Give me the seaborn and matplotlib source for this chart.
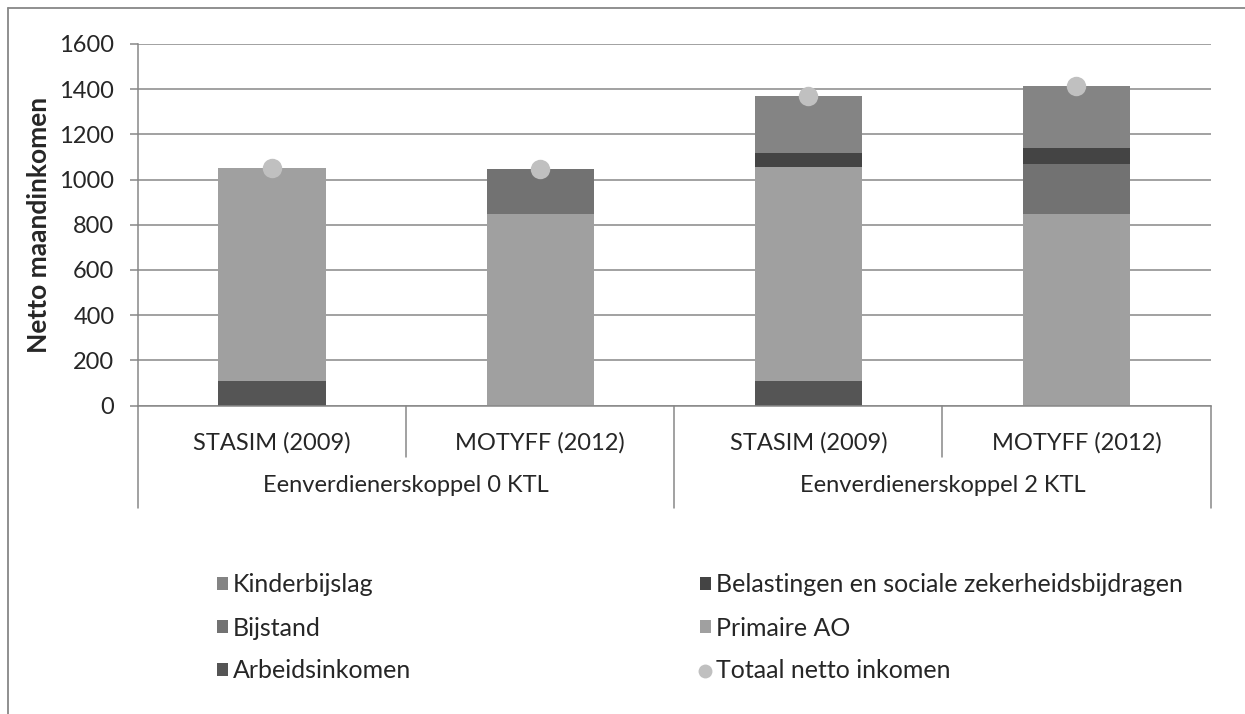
import pandas as pd
import seaborn as sns
import matplotlib.pyplot as plt
from matplotlib.patches import Patch
from matplotlib.lines import Line2D

# --- data ---
groups = ["Eenverdienerskoppel 0 KTL", "Eenverdienerskoppel 0 KTL",
          "Eenverdienerskoppel 2 KTL", "Eenverdienerskoppel 2 KTL"]
scenarios = ["STASIM (2009)", "MOTYFF (2012)", "STASIM (2009)", "MOTYFF (2012)"]

arbeidsinkomen = [110, 0, 110, 0]
primaire_ao = [942, 846, 944, 846]
bijstand = [0, 200, 0, 225]
belastingen = [0, 0, 63, 68]
kinderbijslag = [0, 0, 252, 275]
totaal = [1052, 1046, 1368, 1414]

y_ticks = [0, 200, 400, 600, 800, 1000, 1200, 1400, 1600]

# stacking order, bottom to top
layers = [
    ("Arbeidsinkomen", arbeidsinkomen, "#555555"),
    ("Primaire AO", primaire_ao, "#a0a0a0"),
    ("Bijstand", bijstand, "#727272"),
    ("Belastingen en sociale zekerheidsbijdragen", belastingen, "#444444"),
    ("Kinderbijslag", kinderbijslag, "#848484"),
]
total_color = "#c0c0c0"
line_color = "#878787"

sns.set_theme(style="white")
plt.rcParams['font.family'] = ['Lato', 'DejaVu Sans']
FS_TICK = 17
FS_CAT = 17
FS_LEG = 18
FS_YLAB = 19

df = pd.DataFrame({"groep": groups, "scenario": scenarios, "totaal": totaal})
df["key"] = df["groep"] + " | " + df["scenario"]
keys = list(df["key"])

cum = [0] * len(keys)
cum_layers = []
for name, vals, color in layers:
    cum = [c + v for c, v in zip(cum, vals)]
    cum_layers.append((name, list(cum), color))

fig = plt.figure(figsize=(12.45, 7.14), dpi=100)
ax = fig.add_axes([138 / 1245, 1 - 405.5 / 714, (1210.5 - 138) / 1245, (405.5 - 44) / 714])

# draw tallest cumulative first so lower layers sit on top
for name, heights, color in reversed(cum_layers):
    sns.barplot(x=keys, y=heights, order=keys, color=color, width=0.4,
                saturation=1, ax=ax, linewidth=0)

sns.stripplot(data=df, x="key", y="totaal", order=keys, jitter=False,
              color=total_color, size=14, linewidth=0, ax=ax, zorder=5)

ax.set_xlim(-0.5, len(keys) - 0.5)
ax.set_ylim(0, 1600)
ax.set_yticks(y_ticks)
ax.yaxis.grid(True, color=line_color, linewidth=1.1)
ax.set_axisbelow(True)
ax.tick_params(axis='y', length=6, width=1.1, color=line_color, direction='out',
               pad=11, labelsize=FS_TICK, left=True)
ax.tick_params(axis='x', bottom=False, labelbottom=False)
ax.set_xlabel("")
ax.set_ylabel("Netto maandinkomen", fontsize=FS_YLAB, fontweight='bold')
ax.yaxis.set_label_coords(-(138 - 51) / (1210.5 - 138), 0.5)
for s in ["top", "right"]:
    ax.spines[s].set_visible(False)
for s in ["left", "bottom"]:
    ax.spines[s].set_color(line_color)
    ax.spines[s].set_linewidth(1.1)

# multi-level category axis
tr = ax.get_xaxis_transform()
for i, sc in enumerate(scenarios):
    ax.text(i, -0.104, sc, transform=tr, ha='center', va='center', fontsize=FS_CAT)
for g_start in range(0, len(keys), 2):
    ax.text(g_start + 0.5, -0.22, groups[g_start], transform=tr,
            ha='center', va='center', fontsize=FS_CAT)
for x in [0.5, 2.5]:
    ax.plot([x, x], [0, -0.1425], transform=tr, color=line_color, lw=1.1, clip_on=False)
for x in [-0.5, 1.5, 3.5]:
    ax.plot([x, x], [0, -0.2835], transform=tr, color=line_color, lw=1.1, clip_on=False)

# legend, two columns
def sq(c):
    return Patch(facecolor=c, edgecolor='none')

col1 = [(sq("#848484"), "Kinderbijslag"), (sq("#727272"), "Bijstand"),
        (sq("#555555"), "Arbeidsinkomen")]
col2 = [(sq("#444444"), "Belastingen en sociale zekerheidsbijdragen"),
        (sq("#a0a0a0"), "Primaire AO"),
        (Line2D([], [], marker='o', color='none', markerfacecolor=total_color,
                markeredgecolor='none', markersize=10), "Totaal netto inkomen")]
for items, x0 in [(col1, 217), (col2, 700)]:
    leg = fig.legend([h for h, _ in items], [t for _, t in items],
                     loc='center left', bbox_to_anchor=(x0 / 1245, 1 - 628 / 714),
                     frameon=False, fontsize=FS_LEG, borderpad=0, borderaxespad=0,
                     handlelength=0.42, handleheight=0.42, handletextpad=0.2,
                     labelspacing=0.8)

# outer chart border (left and top edges visible)
fig.add_artist(Line2D([8 / 1245, 8 / 1245], [0, 1 - 8 / 714], transform=fig.transFigure,
                      color=line_color, lw=1.3))
fig.add_artist(Line2D([8 / 1245, 1], [1 - 8 / 714, 1 - 8 / 714], transform=fig.transFigure,
                      color=line_color, lw=1.3))

fig.savefig("out.png", dpi=100)
